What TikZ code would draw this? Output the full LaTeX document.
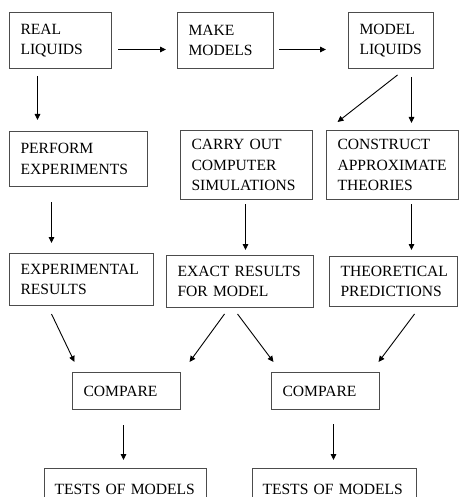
\documentclass[tikz,border=0pt]{standalone}
\usepackage{fontspec}
\setmainfont{Liberation Serif}
\usepackage{tikz}
\usetikzlibrary{arrows.meta}
\uchyph=0
\hyphenpenalty=10000

\begin{document}
\begin{tikzpicture}[
	  x=1pt, y=-1pt,
	  every node/.style = {shape=rectangle, draw=black!70, line width=1pt, align=left, anchor=north west,
	    inner xsep=11pt, font=\fontsize{15.6}{20.5}\selectfont},
	  arr/.style={draw, line width=0.9pt, -{Triangle[length=6pt, width=5.5pt]}}
	]
	  \useasboundingbox (0,0) rectangle (460,497);

	  % first row
	  \node[text width=80pt, minimum height=56pt] (real) at (9,12) {REAL\\LIQUIDS};
	  \node[text width=74pt, minimum height=56pt] (make) at (177,12) {MAKE\\MODELS};
	  \node[text width=63pt, minimum height=56pt] (model) at (348,12) {MODEL\\LIQUIDS};

	  % second row
	  \node[text width=116pt, minimum height=55pt] (perform) at (9,131) {PERFORM\\EXPERIMENTS};
	  \node[text width=110pt, minimum height=69pt] (carry) at (180,130) {CARRY OUT\\COMPUTER\\SIMULATIONS};
	  \node[text width=110pt, minimum height=69pt] (construct) at (326,130) {CONSTRUCT\\APPROXIMATE\\THEORIES};

	  % results
	  \node[text width=122pt, minimum height=52pt] (expres) at (9,253) {EXPERIMENTAL\\RESULTS};
	  \node[text width=125pt, minimum height=52pt] (exact) at (166,255) {EXACT RESULTS\\FOR MODEL};
	  \node[text width=106pt, minimum height=50pt] (theo) at (329,256) {THEORETICAL\\PREDICTIONS};

	  % compare and tests
	  \node[text width=86pt, minimum height=37pt] (cmp1) at (72,372) {COMPARE};
	  \node[text width=86pt, minimum height=37pt] (cmp2) at (271,372) {COMPARE};
	  \node[text width=142pt, inner xsep=10pt, minimum height=42pt] (tests1) at (44,468) {TESTS OF MODELS};
	  \node[text width=144pt, inner xsep=10pt, minimum height=42pt] (tests2) at (252,468) {TESTS OF MODELS};

	  \draw[arr] ([shift={(6,9)}]real.east) -- ([shift={(-11,9)}]make.west);
	  \draw[arr] ([shift={(5,9)}]make.east) -- ([shift={(-22,9)}]model.west);
	  \draw[arr] ([shift={(-23,7)}]real.south) -- ([shift={(-41,-11)}]perform.north);
	  \draw[arr] ([shift={(6.5,6)}]model.south) -- ([shift={(-55,-8)}]construct.north);
	  \draw[arr] ([shift={(20.5,8)}]model.south) -- ([shift={(19,-7)}]construct.north);
	  \draw[arr] ([shift={(-27,15)}]perform.south) -- ([shift={(-30,-10)}]expres.north);
	  \draw[arr] ([shift={(-1,4)}]carry.south) -- ([shift={(5.5,-5)}]exact.north);
	  \draw[arr] ([shift={(19,4)}]construct.south) -- ([shift={(18,-6)}]theo.north);
	  \draw[arr] ([shift={(-30,8)}]expres.south) -- ([shift={(-52,-10)}]cmp1.north);
	  \draw[arr] ([shift={(-15.5,6)}]exact.south) -- ([shift={(63,-10)}]cmp1.north);
	  \draw[arr] ([shift={(-2.5,6)}]exact.south) -- ([shift={(-52,-10)}]cmp2.north);
	  \draw[arr] ([shift={(21,7)}]theo.south) -- ([shift={(53,-10)}]cmp2.north);
	  \draw[arr] ([shift={(-3,15)}]cmp1.south) -- ([shift={(-2,-8)}]tests1.north);
	  \draw[arr] ([shift={(8,14)}]cmp2.south) -- ([shift={(-1,-8)}]tests2.north);
	\end{tikzpicture}
\end{document}
